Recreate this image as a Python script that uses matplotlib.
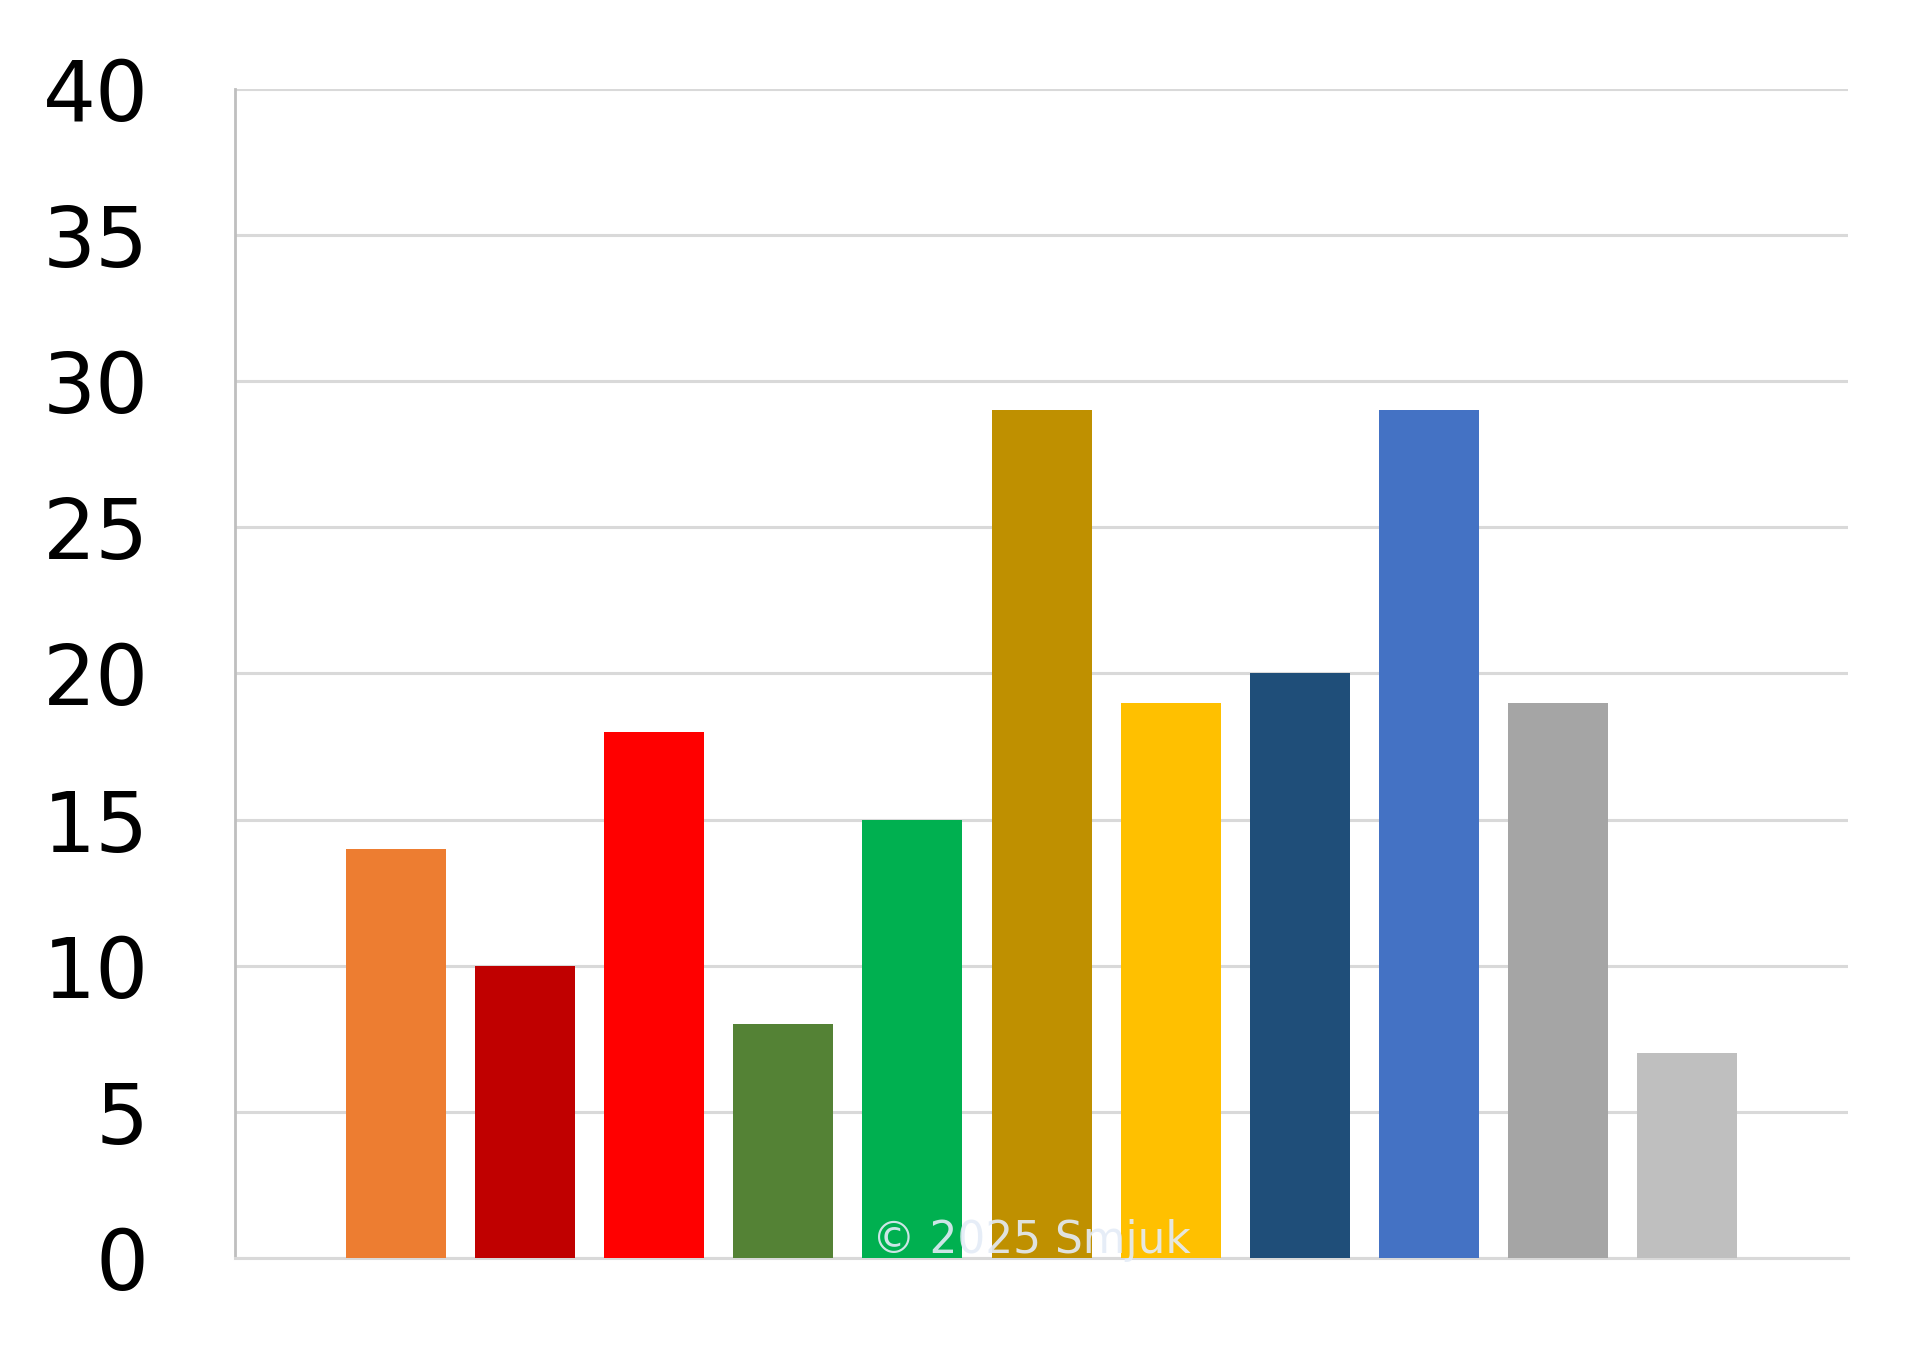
import numpy as np
import matplotlib.pyplot as plt

values = [14, 10, 18, 8, 15, 29, 19, 20, 29, 19, 7]
colors = ["#ED7D31", "#C00000", "#FF0000", "#548235", "#00B050", "#BF9000",
          "#FFC000", "#1F4E79", "#4472C4", "#A5A5A5", "#BFBFBF"]
yticks = [0, 5, 10, 15, 20, 25, 30, 35, 40]

fig = plt.figure(figsize=(19.2, 13.49), dpi=100)
ax = fig.add_axes([0.1224, 0.0675, 0.8401, 0.8665])

x = np.arange(len(values))
ax.bar(x, values, width=0.775, color=colors, zorder=3)

ax.set_xlim(-1.25, len(values) - 1 + 1.25)
ax.set_ylim(0, 40)
ax.set_yticks(yticks)
ax.set_xticks([])
ax.yaxis.grid(True, color="#d9d9d9", linewidth=2.2, zorder=0)
ax.tick_params(axis="y", length=0, pad=62, labelsize=60, labelcolor="black")

for s in ["top", "right"]:
    ax.spines[s].set_visible(False)
ax.spines["left"].set_color("#bfbfbf")
ax.spines["left"].set_linewidth(2)
ax.spines["bottom"].set_color("#d9d9d9")
ax.spines["bottom"].set_linewidth(2.2)

# watermark
ax.text(0.494, 0.004, "© 2025 Smjuk", transform=ax.transAxes, ha="center", va="baseline",
        fontsize=31.5, color="#e4ecf7", alpha=0.9, zorder=5)

fig.savefig("out.png", dpi=100)
